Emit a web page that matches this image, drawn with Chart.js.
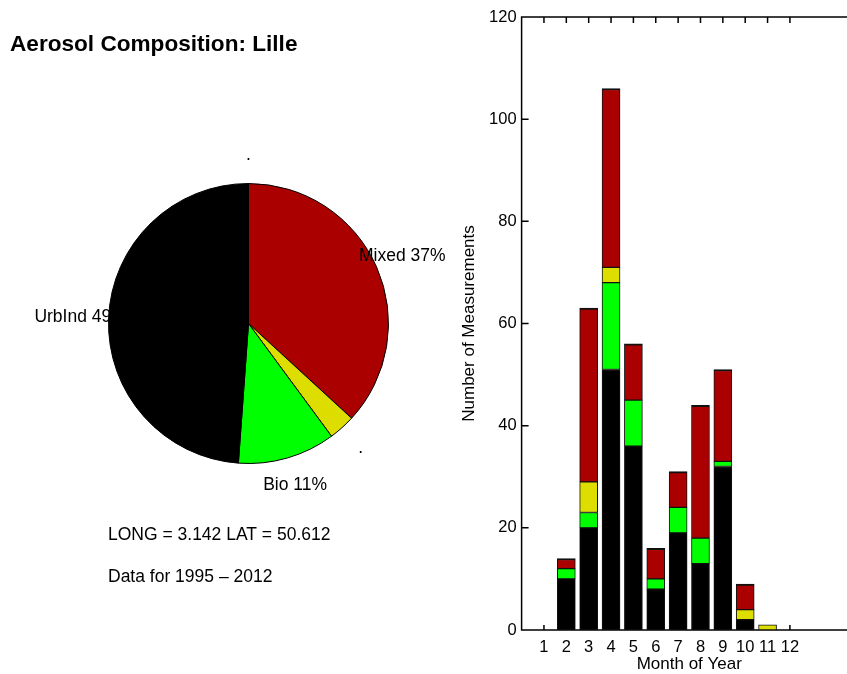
<!DOCTYPE html>
<html>
<head>
<meta charset="utf-8">
<script src="https://cdn.jsdelivr.net/npm/chart.js@4.4.1/dist/chart.umd.min.js"></script>
<style>
    html, body { margin: 0; padding: 0; background: #fff; overflow: hidden; }
    #wrap { position: relative; width: 847px; height: 674px; }
    #pie-chart { position: absolute; left: 0; top: 0; }
    #bar-chart { position: absolute; left: 440px; top: 0; }
</style>
</head>
<body>
<div id="wrap">
    <canvas id="pie-chart" width="470" height="674"></canvas>
    <canvas id="bar-chart" width="440" height="674"></canvas>
</div>
<script>
const siteName = "Lille";
const siteLong = "3.142";
const siteLat = "50.612";
const yearFirst = 1995;
const yearLast = 2012;

const months = [1, 2, 3, 4, 5, 6, 7, 8, 9, 10, 11, 12];
const urbIndCounts = [0, 10, 20, 51, 36, 8, 19, 13, 32, 2, 0, 0];
const bioCounts = [0, 2, 3, 17, 9, 2, 5, 5, 1, 0, 0, 0];
const dustCounts = [0, 0, 6, 3, 0, 0, 0, 0, 0, 2, 1, 0];
const mixedCounts = [0, 2, 34, 35, 11, 6, 7, 26, 18, 5, 0, 0];
const otherCounts = [0, 0, 0, 0, 0, 0, 0, 0, 0, 0, 0, 0];
const yTicks = [0, 20, 40, 60, 80, 100, 120];

const FONT = "'Liberation Sans', Arial, Helvetica, sans-serif";

function sum(arr) {
    return arr.reduce((a, b) => a + b, 0);
}

function toPoints(arr) {
    return arr.map((v, i) => ({ x: months[i], y: v }));
}

// pie goes clockwise from 12 o'clock
const pieNames = ["Other", "Mixed", "Dust", "Bio", "UrbInd"];
const pieTotals = [sum(otherCounts), sum(mixedCounts), sum(dustCounts), sum(bioCounts), sum(urbIndCounts)];
const pieColors = ["#ffffff", "#aa0000", "#dddd00", "#00ff00", "#000000"];
const grandTotal = sum(pieTotals);

function pieLabel(i) {
    const pct = (100 * pieTotals[i]) / grandTotal;
    if (pct < 5) return ".";
    return pieNames[i] + " " + Math.round(pct) + "%";
}

const pieText = {
    id: "pieText",
    afterDatasetsDraw(chart) {
        const ctx = chart.ctx;
        const meta = chart.getDatasetMeta(0);
        ctx.save();
        ctx.fillStyle = "#000";
        ctx.textAlign = "center";
        ctx.textBaseline = "middle";
        ctx.font = "17.5px " + FONT;
        meta.data.forEach((arc, i) => {
            const p = arc.getProps(["x", "y", "startAngle", "endAngle", "outerRadius"], true);
            const mid = (p.startAngle + p.endAngle) / 2;
            const r = 1.2 * p.outerRadius;
            ctx.fillText(pieLabel(i), p.x + r * Math.cos(mid), p.y + r * Math.sin(mid));
        });

        ctx.textAlign = "left";
        ctx.textBaseline = "alphabetic";
        ctx.font = "bold 22.6px " + FONT;
        ctx.fillText("Aerosol Composition: " + siteName, 10, 51);
        ctx.font = "17.5px " + FONT;
        ctx.fillText("LONG = " + siteLong + " LAT = " + siteLat, 108, 540);
        ctx.fillText("Data for " + yearFirst + " \u2013 " + yearLast, 108, 582);
        ctx.restore();
    },
};

new Chart(document.getElementById("pie-chart").getContext("2d"), {
    type: "pie",
    data: {
        labels: pieNames,
        datasets: [
            {
                data: pieTotals,
                backgroundColor: pieColors,
                borderColor: "#000",
                borderWidth: 1,
            },
        ],
    },
    options: {
        responsive: false,
        animation: false,
        layout: {
            padding: { left: 108, top: 183, right: 81, bottom: 210 },
        },
        plugins: {
            legend: { display: false },
            tooltip: { enabled: false },
        },
    },
    plugins: [pieText],
});

// box with inward ticks, drawn under the bars
const axisFrame = {
    id: "axisFrame",
    beforeDatasetsDraw(chart) {
        const ctx = chart.ctx;
        const a = chart.chartArea;
        const xs = chart.scales.x;
        const ys = chart.scales.y;
        ctx.save();
        ctx.strokeStyle = "#000";
        ctx.lineWidth = 1.5;
        ctx.beginPath();
        ctx.rect(a.left, a.top, a.right - a.left, a.bottom - a.top);
        months.forEach((m) => {
            const px = xs.getPixelForValue(m);
            ctx.moveTo(px, a.top);
            ctx.lineTo(px, a.top + 6);
            ctx.moveTo(px, a.bottom);
            ctx.lineTo(px, a.bottom - 5);
        });
        yTicks.forEach((v) => {
            const py = ys.getPixelForValue(v);
            ctx.moveTo(a.left, py);
            ctx.lineTo(a.left + 7, py);
            ctx.moveTo(a.right, py);
            ctx.lineTo(a.right - 7, py);
        });
        ctx.stroke();
        ctx.restore();
    },
    afterDraw(chart) {
        const ctx = chart.ctx;
        const a = chart.chartArea;
        ctx.save();
        ctx.fillStyle = "#000";
        ctx.font = "17px " + FONT;
        ctx.textAlign = "center";
        ctx.textBaseline = "middle";
        ctx.fillText("Month of Year", (a.left + a.right) / 2, 664);
        ctx.translate(29, (a.top + a.bottom) / 2);
        ctx.rotate(-Math.PI / 2);
        ctx.fillText("Number of Measurements", 0, 0);
        ctx.restore();
    },
};

const tickFont = { family: FONT, size: 16.5 };

new Chart(document.getElementById("bar-chart").getContext("2d"), {
    type: "bar",
    data: {
        datasets: [
            { label: "UrbInd", data: toPoints(urbIndCounts), backgroundColor: "#000000" },
            { label: "Bio", data: toPoints(bioCounts), backgroundColor: "#00ff00" },
            { label: "Dust", data: toPoints(dustCounts), backgroundColor: "#dddd00" },
            {
                label: "Mixed",
                data: toPoints(mixedCounts),
                backgroundColor: "#aa0000",
                borderWidth: { top: 2, left: 1, right: 1, bottom: 1 },
            },
        ],
    },
    options: {
        responsive: false,
        animation: false,
        layout: {
            padding: { left: 0, top: 17, right: 23, bottom: 0 },
        },
        datasets: {
            bar: {
                barThickness: 18,
                borderWidth: 1,
                borderColor: "#111",
                borderSkipped: false,
            },
        },
        plugins: {
            legend: { display: false },
            tooltip: { enabled: false },
        },
        scales: {
            x: {
                type: "linear",
                stacked: true,
                offset: false,
                min: 0,
                max: 15,
                grid: { display: false, drawTicks: false },
                border: { display: false },
                afterBuildTicks: (scale) => {
                    scale.ticks = months.map((m) => ({ value: m }));
                },
                afterFit: (scale) => {
                    scale.height = 44;
                },
                ticks: {
                    font: tickFont,
                    color: "#000",
                    padding: 8,
                    maxRotation: 0,
                    autoSkip: false,
                },
            },
            y: {
                stacked: true,
                min: 0,
                max: 120,
                grid: { display: false, drawTicks: false },
                border: { display: false },
                afterBuildTicks: (scale) => {
                    scale.ticks = yTicks.map((v) => ({ value: v }));
                },
                afterFit: (scale) => {
                    scale.width = 81.6;
                },
                ticks: {
                    font: tickFont,
                    color: "#000",
                    padding: 5,
                },
            },
        },
    },
    plugins: [axisFrame],
});
</script>
</body>
</html>
